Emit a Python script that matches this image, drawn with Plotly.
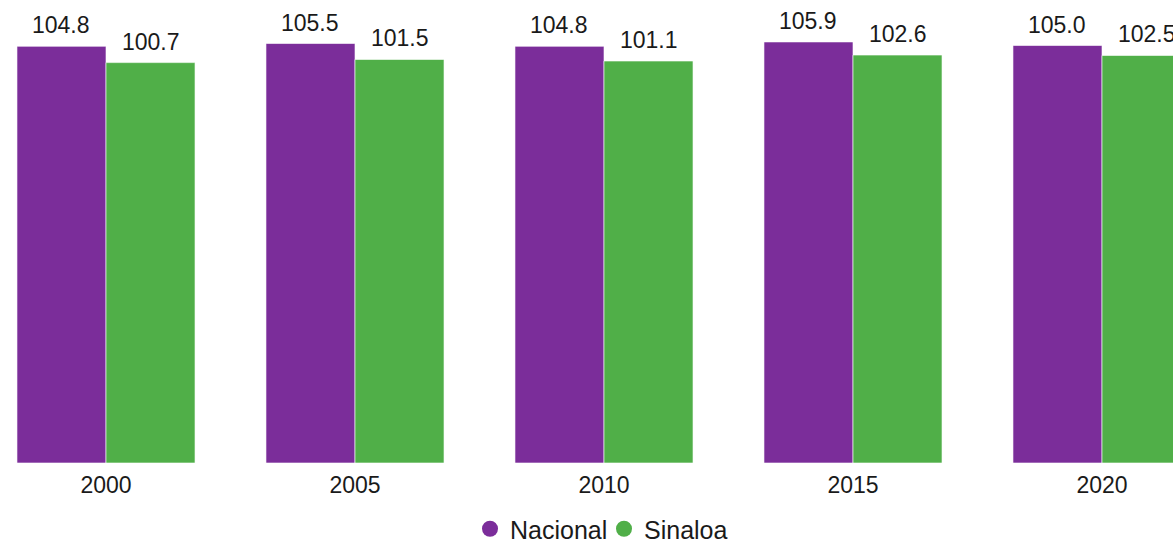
import plotly.graph_objects as go

years = ["2000", "2005", "2010", "2015", "2020"]
nacional = [104.8, 105.5, 104.8, 105.9, 105.0]
sinaloa = [100.7, 101.5, 101.1, 102.6, 102.5]

purple = "#7B2D9A"
green = "#50AF48"
font_family = "Liberation Sans, Arial, sans-serif"
txt_color = "#1a1a1a"

xs = list(range(len(years)))

fig = go.Figure()
fig.add_trace(go.Bar(x=xs, y=nacional, name="Nacional", marker=dict(color=purple, line=dict(color="rgba(255,255,255,0.6)", width=1)), showlegend=False))
fig.add_trace(go.Bar(x=xs, y=sinaloa, name="Sinaloa", marker=dict(color=green, line=dict(color="rgba(255,255,255,0.6)", width=1)), showlegend=False))

# legend entries with circle markers
fig.add_trace(go.Scatter(x=[None], y=[None], mode="markers", name="Nacional", marker=dict(color=purple, size=20, symbol="circle")))
fig.add_trace(go.Scatter(x=[None], y=[None], mode="markers", name="Sinaloa", marker=dict(color=green, size=20, symbol="circle")))

bargap = 0.285
half = (1 - bargap) / 4
annotations = []
for i in xs:
    for val, off in ((nacional[i], -half), (sinaloa[i], half)):
        annotations.append(dict(x=i + off, y=val, text=f"{val:.1f}", showarrow=False,
                                xref="x", yref="y", yanchor="bottom", yshift=6,
                                font=dict(family=font_family, size=23, color=txt_color)))

fig.update_layout(
    width=1173, height=545,
    margin=dict(l=0, r=0, t=0, b=82, autoexpand=False),
    paper_bgcolor="white", plot_bgcolor="white",
    barmode="group", bargap=bargap, bargroupgap=0,
    annotations=annotations,
    xaxis=dict(range=[-106/249, (1173-106)/249], tickmode="array", tickvals=xs, ticktext=years,
               showgrid=False, zeroline=False, showline=False, automargin=False,
               ticks="outside", ticklen=1, tickcolor="rgba(0,0,0,0)",
               tickfont=dict(family=font_family, size=23, color=txt_color)),
    yaxis=dict(range=[0, 463/3.976], visible=False, showgrid=False, zeroline=False),
    legend=dict(orientation="h", x=604/1173, xanchor="center", y=-66/463, yanchor="middle",
                font=dict(family=font_family, size=25, color=txt_color), itemwidth=30,
                entrywidth=89, entrywidthmode="pixels", tracegroupgap=0),
    showlegend=True,
)

fig.write_html("out.html", config={"displayModeBar": False},
               post_script="document.body.style.margin='0';document.body.style.overflow='hidden';")
